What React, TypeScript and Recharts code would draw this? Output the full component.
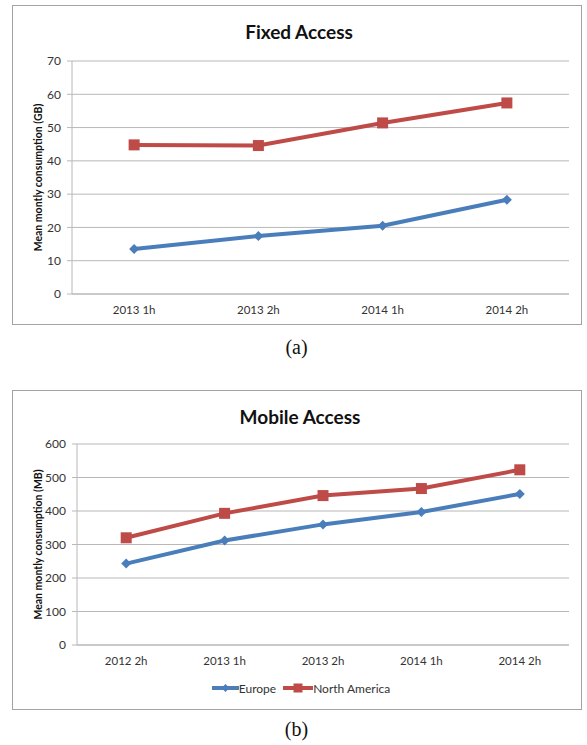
import React from "react";
import {
  LineChart,
  Line,
  XAxis,
  YAxis,
  CartesianGrid,
  Legend,
} from "recharts";

const fixedCategories = ["2013 1h", "2013 2h", "2014 1h", "2014 2h"];
const fixedEurope = [13.5, 17.4, 20.5, 28.3];
const fixedNorthAmerica = [44.8, 44.6, 51.4, 57.4];
const fixedTicks = [0, 10, 20, 30, 40, 50, 60, 70];

const mobileCategories = ["2012 2h", "2013 1h", "2013 2h", "2014 1h", "2014 2h"];
const mobileEurope = [243, 312, 360, 397, 451];
const mobileNorthAmerica = [320, 393, 446, 467, 523];
const mobileTicks = [0, 100, 200, 300, 400, 500, 600];

const BLUE = "#4A7EBB";
const RED = "#BE4B48";
const GRID = "#b8b8b8";
const FONT = "Lato, 'Open Sans', sans-serif";
const CHART_W = 568;
const CHART_H = 318;
const RIGHT = 12;
const FRAME_LEFT = 12;

const Diamond = (props: any) => {
  const { cx, cy, fill, r = 5 } = props;
  if (cx == null || cy == null) return null;
  return (
    <polygon
      points={`${cx},${cy - r} ${cx + r},${cy} ${cx},${cy + r} ${cx - r},${cy}`}
      fill={fill}
    />
  );
};

const Square = (props: any) => {
  const { cx, cy, fill, s = 11 } = props;
  if (cx == null || cy == null) return null;
  return <rect x={cx - s / 2} y={cy - s / 2} width={s} height={s} fill={fill} />;
};

const LegendContent = () => (
  <div
    style={{
      display: "flex",
      justifyContent: "center",
      alignItems: "center",
      height: 30,
      paddingLeft: 20,
      fontFamily: FONT,
      fontSize: 12,
      color: "#333",
      gap: 7,
    }}
  >
    <span style={{ display: "flex", alignItems: "center" }}>
      <svg width={27} height={12}>
        <line x1={0} y1={6} x2={27} y2={6} stroke={BLUE} strokeWidth={4} />
        <Diamond cx={13.5} cy={6} fill={BLUE} r={4} />
      </svg>
      Europe
    </span>
    <span style={{ display: "flex", alignItems: "center" }}>
      <svg width={30} height={12}>
        <line x1={0} y1={6} x2={30} y2={6} stroke={RED} strokeWidth={4} />
        <Square cx={15} cy={6} fill={RED} s={9} />
      </svg>
      North America
    </span>
  </div>
);

type PanelProps = {
  title: string;
  categories: string[];
  europe: number[];
  northAmerica: number[];
  ticks: number[];
  yLabel: string;
  yAxisWidth: number;
  top: number;
  titleX: number;
  showLegend?: boolean;
};

const ChartPanel = ({
  title,
  categories,
  europe,
  northAmerica,
  ticks,
  yLabel,
  yAxisWidth,
  top,
  titleX,
  showLegend,
}: PanelProps) => {
  const data = categories.map((c, i) => ({
    name: c,
    europe: europe[i],
    northAmerica: northAmerica[i],
  }));
  const bounds = Array.from({ length: categories.length + 1 }, (_, i) => i);
  // points sit in the middle of each category band
  const halfBand = (CHART_W - yAxisWidth - RIGHT) / categories.length / 2;

  return (
    <div style={{ ...frameStyle, top }}>
      <div style={{ ...titleStyle, left: titleX - 150 - FRAME_LEFT - 1 }}>{title}</div>
      <LineChart
        width={CHART_W}
        height={CHART_H}
        data={data}
        margin={{ top: showLegend ? 53 : 55, right: RIGHT, left: 0, bottom: showLegend ? 6 : 5 }}
      >
        <CartesianGrid vertical={false} stroke={GRID} />
        <XAxis
          xAxisId="bounds"
          type="number"
          domain={[0, categories.length]}
          ticks={bounds}
          tick={false}
          axisLine={false}
          tickLine={{ stroke: "#999" }}
          tickSize={5}
          height={0}
          allowDataOverflow
        />
        <XAxis
          dataKey="name"
          height={showLegend ? 28 : 25}
          padding={{ left: halfBand, right: halfBand }}
          tickLine={false}
          tickSize={0}
          tickMargin={12}
          axisLine={{ stroke: GRID }}
          interval={0}
          tick={{ fontSize: 11.5, fill: "#333", fontFamily: FONT }}
        />
        <YAxis
          width={yAxisWidth}
          domain={[ticks[0], ticks[ticks.length - 1]]}
          ticks={ticks}
          interval={0}
          tickSize={5}
          tickMargin={6}
          axisLine={{ stroke: GRID }}
          tickLine={{ stroke: GRID }}
          tick={{ fontSize: 12, fill: "#333", fontFamily: FONT }}
          label={({ viewBox }: any) => (
            <text
              x={25}
              y={viewBox.y + viewBox.height / 2}
              transform={`rotate(-90 25 ${viewBox.y + viewBox.height / 2})`}
              textAnchor="middle"
              dominantBaseline="central"
              fontFamily={FONT}
              fontWeight={700}
              fontSize={10.5}
              fill="#111"
            >
              {yLabel}
            </text>
          )}
        />
        {showLegend && <Legend verticalAlign="bottom" height={30} content={LegendContent} />}
        <Line
          dataKey="europe"
          stroke={BLUE}
          strokeWidth={4}
          dot={(p: any) => <Diamond key={`e${p.index}`} cx={p.cx} cy={p.cy} fill={BLUE} r={5} />}
          activeDot={false}
          isAnimationActive={false}
        />
        <Line
          dataKey="northAmerica"
          stroke={RED}
          strokeWidth={4}
          dot={(p: any) => <Square key={`n${p.index}`} cx={p.cx} cy={p.cy} fill={RED} s={11} />}
          activeDot={false}
          isAnimationActive={false}
        />
      </LineChart>
    </div>
  );
};

export default function App() {
  return (
    <div style={{ position: "absolute", left: 0, top: 0, width: 587, height: 745, background: "white" }}>
      <ChartPanel
        title="Fixed Access"
        categories={fixedCategories}
        europe={fixedEurope}
        northAmerica={fixedNorthAmerica}
        ticks={fixedTicks}
        yLabel="Mean montly consumption (GB)"
        yAxisWidth={59}
        top={5}
        titleX={299}
      />
      <div style={{ ...captionStyle, top: 335 }}>(a)</div>
      <ChartPanel
        title="Mobile Access"
        categories={mobileCategories}
        europe={mobileEurope}
        northAmerica={mobileNorthAmerica}
        ticks={mobileTicks}
        yLabel="Mean montly consumption (MB)"
        yAxisWidth={64}
        top={390}
        titleX={300}
        showLegend
      />
      <div style={{ ...captionStyle, top: 717 }}>(b)</div>
    </div>
  );
}

const frameStyle: React.CSSProperties = {
  position: "absolute",
  left: FRAME_LEFT,
  width: CHART_W,
  height: CHART_H,
  border: "1px solid #a3a3a3",
};

const titleStyle: React.CSSProperties = {
  position: "absolute",
  top: 14,
  width: 300,
  textAlign: "center",
  fontFamily: FONT,
  fontWeight: 700,
  fontSize: 19,
  color: "#111",
  lineHeight: "24px",
};

const captionStyle: React.CSSProperties = {
  position: "absolute",
  left: 0,
  width: 593,
  textAlign: "center",
  fontFamily: "'Liberation Serif', 'DejaVu Serif', serif",
  fontSize: 20,
  lineHeight: "24px",
  color: "#111",
};
